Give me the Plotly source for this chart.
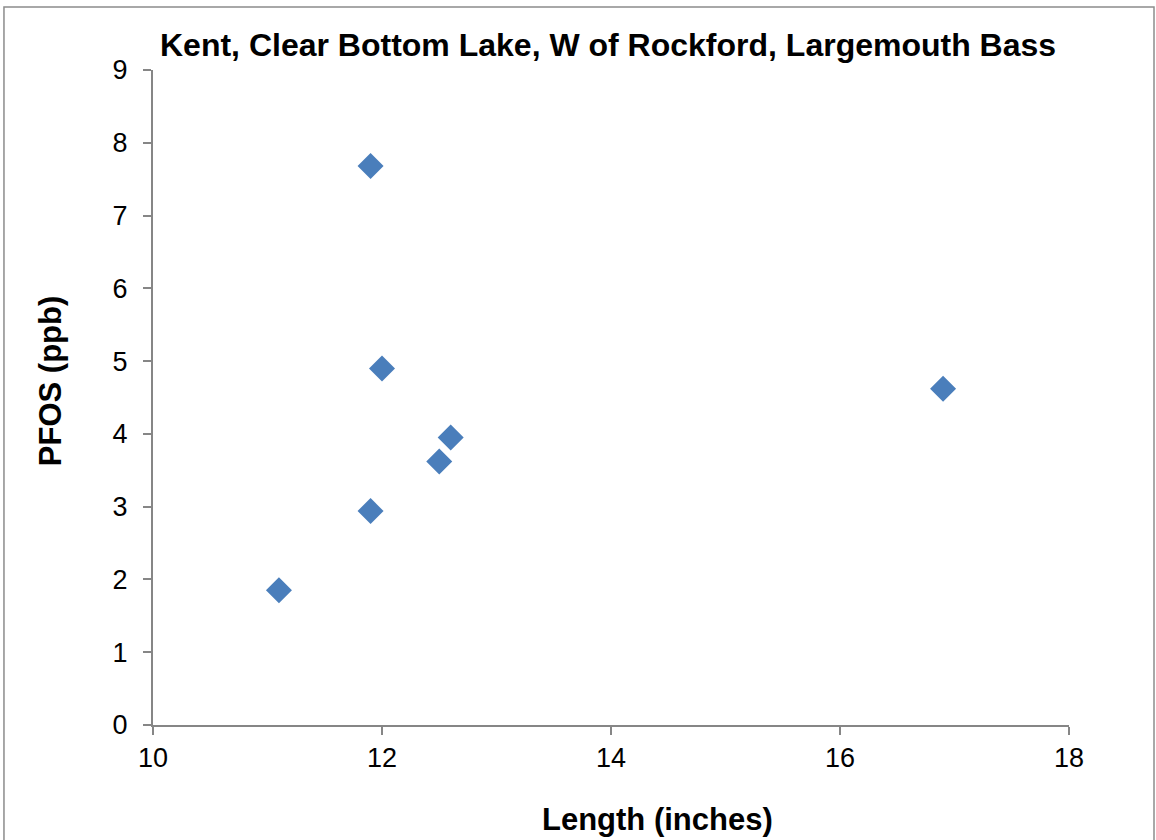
import plotly.graph_objects as go

# Fish length vs PFOS concentration
length_in = [11.1, 11.9, 11.9, 12.0, 12.5, 12.6, 16.9]
pfos_ppb = [1.85, 2.94, 7.68, 4.90, 3.62, 3.95, 4.62]

title = "Kent, Clear Bottom Lake, W of Rockford, Largemouth Bass"
x_title = "Length (inches)"
y_title = "PFOS (ppb)"

font = "Liberation Sans, Arial, sans-serif"
axis_grey = "#868686"

fig = go.Figure(
    go.Scatter(
        x=length_in,
        y=pfos_ppb,
        mode="markers",
        marker=dict(symbol="diamond", size=20, color="#4a7ebb"),
        showlegend=False,
    )
)

fig.update_layout(
    width=1156,
    height=840,
    paper_bgcolor="white",
    plot_bgcolor="white",
    margin=dict(l=153, r=87, t=70, b=115),
    font=dict(family=font, size=27, color="black"),
    annotations=[
        dict(text="<b>%s</b>" % title, x=0.497, y=1.038, xref="paper", yref="paper",
             showarrow=False, font=dict(size=32), xanchor="center", yanchor="middle"),
        dict(text="<b>%s</b>" % x_title, x=0.551, y=-0.145, xref="paper", yref="paper",
             showarrow=False, font=dict(size=31), xanchor="center", yanchor="middle"),
        dict(text="<b>%s</b>" % y_title, x=-0.1124, y=0.525, xref="paper", yref="paper",
             showarrow=False, font=dict(size=31), textangle=-90,
             xanchor="center", yanchor="middle"),
    ],
    shapes=[
        dict(type="rect", xref="paper", yref="paper", x0=-0.1627, x1=1.0928,
             y0=-0.2, y1=1.0962, line=dict(color="#8c8c8c", width=1.5)),
    ],
)

fig.update_xaxes(
    range=[10, 18], dtick=2, showgrid=False, zeroline=False,
    showline=True, linecolor=axis_grey, linewidth=2,
    ticks="outside", ticklen=8, tickcolor=axis_grey, tickwidth=2,
)
fig.update_yaxes(
    range=[0, 9], dtick=1, showgrid=False, zeroline=False,
    showline=True, linecolor=axis_grey, linewidth=2,
    ticks="outside", ticklen=8, tickcolor=axis_grey, tickwidth=2,
    ticklabelstandoff=10,
)

# drop the page's default body margin so the figure fills the window
fig.write_html("out.html", config={"displayModeBar": False},
               post_script="document.body.style.margin='0';")
